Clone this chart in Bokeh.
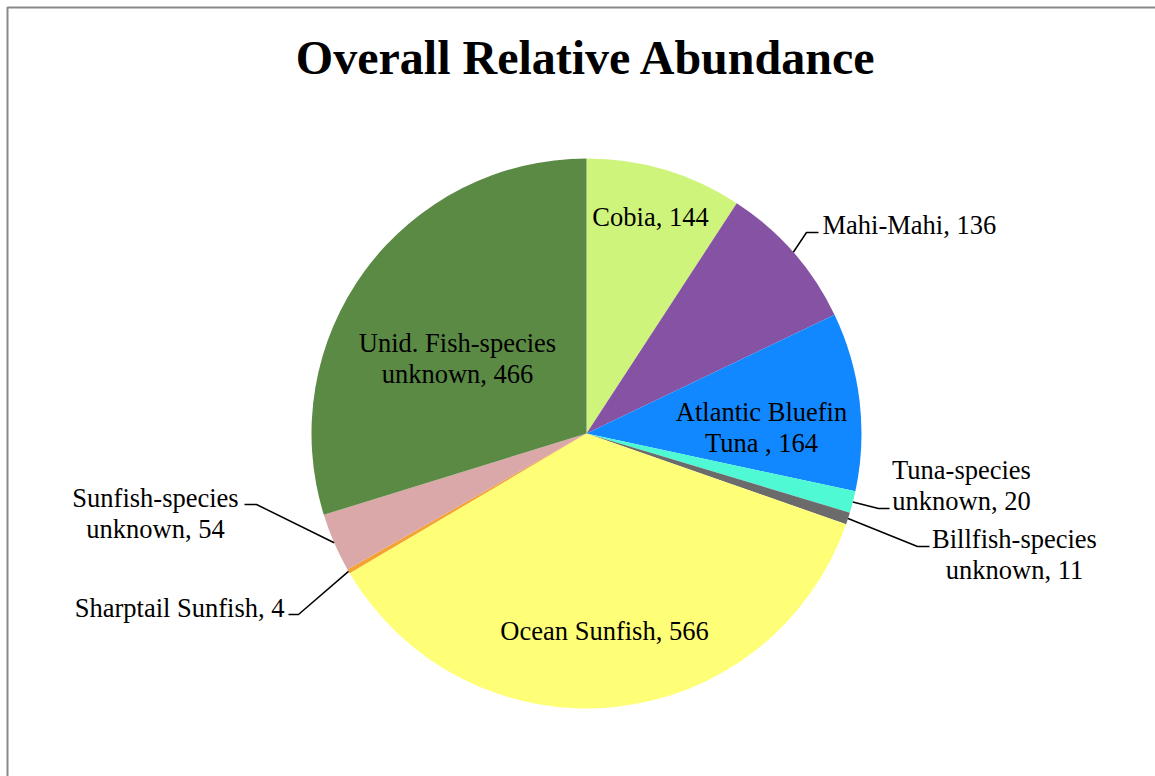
import math
from bokeh.plotting import figure
from bokeh.models import Range1d, ColumnDataSource, BoxAnnotation
from bokeh.core.properties import value
from bokeh.embed import file_html
from bokeh.resources import INLINE

# ---- data ----
species = ["Cobia", "Mahi-Mahi", "Atlantic Bluefin Tuna ", "Tuna-species unknown",
           "Billfish-species unknown", "Ocean Sunfish", "Sharptail Sunfish",
           "Sunfish-species unknown", "Unid. Fish-species unknown"]
counts = [144, 136, 164, 20, 11, 566, 4, 54, 466]
colors = ["#CFF47B", "#8652A3", "#1188FF", "#4FF9D4", "#6B6B6B",
          "#FFFF77", "#F4A234", "#DAA8A8", "#5B8A45"]
label_lines = [["Cobia, 144"], ["Mahi-Mahi, 136"], ["Atlantic Bluefin", "Tuna , 164"],
               ["Tuna-species", "unknown, 20"], ["Billfish-species", "unknown, 11"],
               ["Ocean Sunfish, 566"], ["Sharptail Sunfish, 4"],
               ["Sunfish-species", "unknown, 54"], ["Unid. Fish-species", "unknown, 466"]]

# ---- layout (pixel coordinates, y down) ----
W, H = 1155, 776
CX, CY, R = 586, 433, 275
label_pos = [(650, 216, "center"), (822, 224, "left"), (761, 411, "center"),
             (961, 469, "center"), (1014, 538, "center"), (604, 630, "center"),
             (284, 607, "right"), (155, 497, "center"), (457, 342, "center")]
leaders = {1: [(806, 232), (818, 232)],
           3: [(878, 508), (889, 508)],
           4: [(917, 546), (929, 546)],
           6: [(298, 614), (288, 614)],
           7: [(256, 504), (244, 504)]}
LINE_H = 31

def Y(y):
    return H - y

p = figure(width=W, height=H, output_backend="svg", toolbar_location=None,
           x_range=Range1d(0, W), y_range=Range1d(0, H), min_border=0)
p.axis.visible = False
p.grid.visible = False
p.outline_line_color = None
p.background_fill_color = "white"
p.border_fill_color = "white"

p.add_layout(BoxAnnotation(left=7, right=W + 20, top=Y(7), bottom=-20,
                           fill_alpha=0, line_color="#898989", line_alpha=1.0,
                           line_width=2))

total = sum(counts)
starts, ends, mids = [], [], []
cum = 0
for c in counts:
    a0 = math.pi / 2 - 2 * math.pi * cum / total
    cum += c
    a1 = math.pi / 2 - 2 * math.pi * cum / total
    starts.append(a0)
    ends.append(a1)
    mids.append((a0 + a1) / 2)

src = ColumnDataSource(dict(start=starts, end=ends, color=colors, name=species))
p.wedge(x=CX, y=Y(CY), radius=R, start_angle="start", end_angle="end",
        direction="clock", fill_color="color", line_color=None, source=src)

# leader lines
for i, pts in leaders.items():
    ex = CX + R * math.cos(mids[i])
    ey = Y(CY) + R * math.sin(mids[i])
    xs = [ex] + [pt[0] for pt in pts]
    ys = [ey] + [Y(pt[1]) for pt in pts]
    p.line(xs, ys, line_color="black", line_width=1.5)

# labels
for lines, (lx, ly, al) in zip(label_lines, label_pos):
    for k, t in enumerate(lines):
        p.text(x=[lx], y=[Y(ly + k * LINE_H)], text=[t], text_align=al,
               text_baseline="middle", text_font=value("Liberation Serif"),
               text_font_size="26.5px", text_color="black")

p.text(x=[586], y=[Y(57)], text=["Overall Relative Abundance"], text_align="center",
       text_baseline="middle", text_font=value("Liberation Serif"),
       text_font_size="48px", text_font_style="bold", text_color="black")

open("out.html", "w").write(file_html(p, INLINE))
